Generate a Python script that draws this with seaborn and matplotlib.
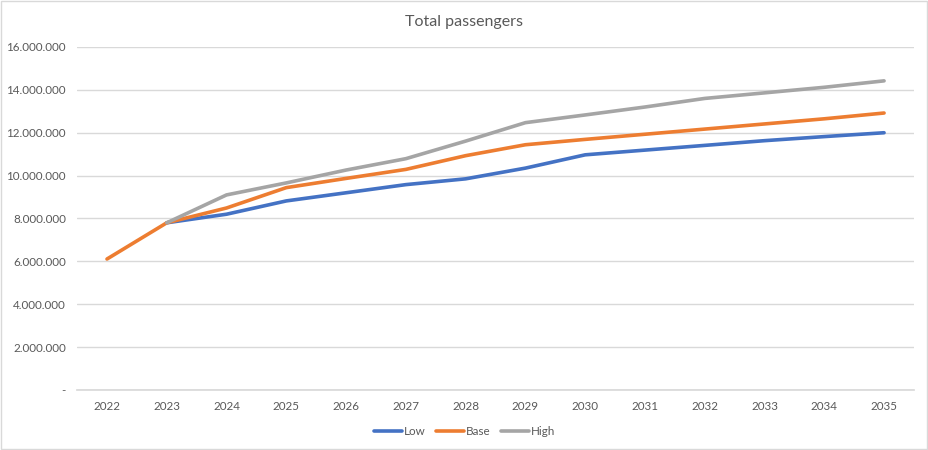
import seaborn as sns
import pandas as pd
import numpy as np
import matplotlib.pyplot as plt
from matplotlib.ticker import FuncFormatter
from matplotlib.patches import Rectangle

sns.set_theme(style="white")
plt.rcParams['font.family'] = ['Lato', 'DejaVu Sans']

# Values (passengers)
years = list(range(2022, 2036))
low = [np.nan, 7.80e6, 8.20e6, 8.82e6, 9.20e6, 9.58e6, 9.85e6, 10.35e6,
       10.97e6, 11.19e6, 11.41e6, 11.63e6, 11.82e6, 12.00e6]
base = [6.11e6, 7.80e6, 8.49e6, 9.44e6, 9.87e6, 10.29e6, 10.93e6, 11.44e6,
        11.69e6, 11.93e6, 12.17e6, 12.41e6, 12.65e6, 12.92e6]
high = [np.nan, 7.80e6, 9.10e6, 9.66e6, 10.26e6, 10.79e6, 11.61e6, 12.47e6,
        12.83e6, 13.20e6, 13.60e6, 13.86e6, 14.12e6, 14.42e6]
scenarios = ["Low", "Base", "High"]
colors = ["#4472C4", "#ED7D31", "#A5A5A5"]

df = pd.DataFrame({
    "year": years * 3,
    "passengers": low + base + high,
    "scenario": np.repeat(scenarios, len(years)),
})

fig = plt.figure(figsize=(9.29, 4.5), dpi=100)
ax = fig.add_axes([0.083, 0.1333, 0.9008, 0.7623])

sns.lineplot(data=df, x="year", y="passengers", hue="scenario",
             hue_order=scenarios, palette=colors, linewidth=2.6,
             ax=ax, legend=True)

ax.set_xlim(2021.5, 2035.5)
ax.set_ylim(0, 16e6)
ax.set_xticks(years)
ax.set_yticks(np.arange(0, 16e6 + 1, 2e6))
ax.yaxis.set_major_formatter(FuncFormatter(
    lambda v, p: "-" if v == 0 else f"{v:,.0f}".replace(",", ".")))
ax.grid(axis="y", color="#D9D9D9", linewidth=1)
ax.set_axisbelow(True)
for s in ["top", "right", "left"]:
    ax.spines[s].set_visible(False)
ax.spines["bottom"].set_color("#D9D9D9")
ax.tick_params(axis="both", labelsize=8.4, labelcolor="#595959", length=0, pad=8)
ax.set_xlabel("")
ax.set_ylabel("")

# title and legend are centred on the whole chart, like Excel does
fig.text(0.5, 0.951, "Total passengers", ha="center", va="center",
         fontsize=11.5, color="#595959")

handles, labels = ax.get_legend_handles_labels()
ax.get_legend().remove()
fig.legend(handles, labels, loc="center", bbox_to_anchor=(0.5, 0.042), ncol=3,
           frameon=False, fontsize=8.4, handlelength=2.4, columnspacing=0.9,
           handletextpad=0.15, labelcolor="#595959")

fig.patches.append(Rectangle((0.001, 0.002), 0.997, 0.996, transform=fig.transFigure,
                             fill=False, edgecolor="#D9D9D9", linewidth=1))

fig.savefig("out.png", dpi=100, facecolor="white")
